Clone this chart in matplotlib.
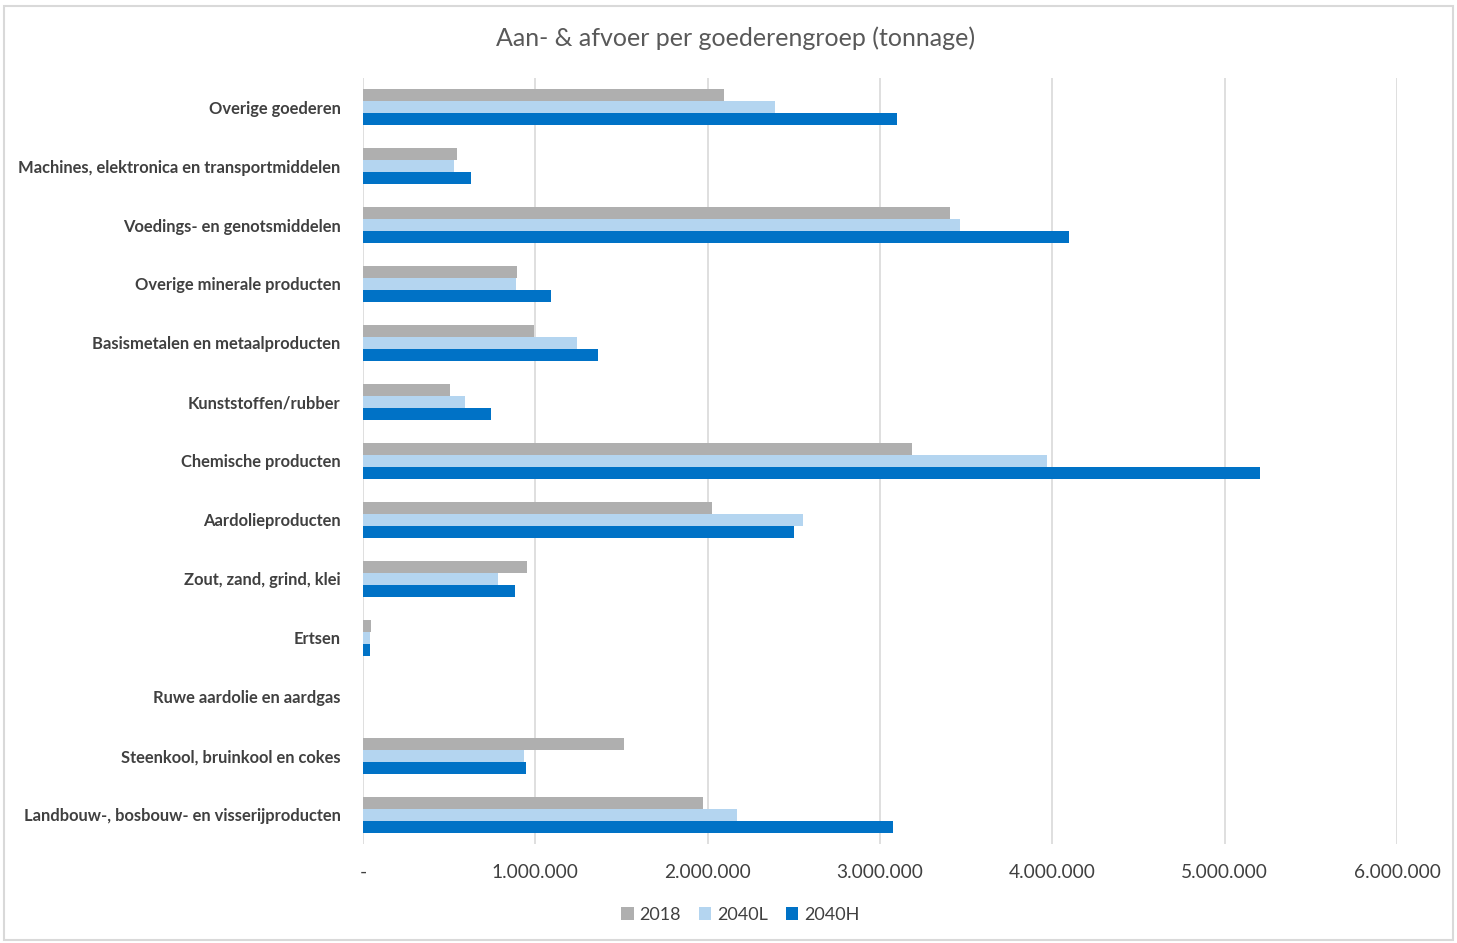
import numpy as np
import matplotlib.pyplot as plt
from matplotlib.patches import Rectangle
from matplotlib.ticker import FuncFormatter

plt.rcParams['font.family'] = ['Lato', 'DejaVu Sans']

# categories, bottom to top
categories = [
    "Landbouw-, bosbouw- en visserijproducten",
    "Steenkool, bruinkool en cokes",
    "Ruwe aardolie en aardgas",
    "Ertsen",
    "Zout, zand, grind, klei",
    "Aardolieproducten",
    "Chemische producten",
    "Kunststoffen/rubber",
    "Basismetalen en metaalproducten",
    "Overige minerale producten",
    "Voedings- en genotsmiddelen",
    "Machines, elektronica en transportmiddelen",
    "Overige goederen",
]
series_names = ["2018", "2040L", "2040H"]
v2018 = [1973000, 1513000, 0, 46000, 951000, 2023000, 3184000, 505000, 990000, 893000, 3405000, 545000, 2095000]
v2040L = [2173000, 933000, 0, 39000, 786000, 2551000, 3967000, 590000, 1240000, 890000, 3463000, 531000, 2390000]
v2040H = [3078000, 949000, 0, 42000, 883000, 2502000, 5203000, 742000, 1363000, 1090000, 4095000, 628000, 3100000]
colors = ["#AFAFAF", "#B4D5F0", "#0072C6"]

fig = plt.figure(figsize=(14.57, 9.43), dpi=100)
fig.patches.append(Rectangle((0.003, 0.003), 0.994, 0.991, transform=fig.transFigure,
                             fill=False, edgecolor="#D9D9D9", linewidth=1.5))
ax = fig.add_axes([0.2491, 0.1045, 0.7097, 0.8133])

y = np.arange(len(categories))
h = 0.2
for i, (vals, name) in enumerate(zip([v2018, v2040L, v2040H], series_names)):
    ax.barh(y + h - i * h, vals, height=h, color=colors[i], label=name, zorder=3)

ax.set_ylim(-0.5, len(categories) - 0.5)
ax.set_xlim(0, 6000000)
ax.set_xticks(np.arange(0, 6000001, 1000000))


def fmt(v, pos):
    if v == 0:
        return "-"
    return f"{int(v):,}".replace(",", ".")


ax.xaxis.set_major_formatter(FuncFormatter(fmt))
ax.set_yticks(y)
ax.set_yticklabels(categories, fontsize=11.9, color="#404040", fontweight="bold")
ax.tick_params(axis="both", length=0)
ax.tick_params(axis="x", labelsize=13.8, colors="#404040", pad=14)
ax.tick_params(axis="y", pad=16)
ax.grid(axis="x", color="#D9D9D9", linewidth=1.2, zorder=0)
for s in ax.spines.values():
    s.set_visible(False)

fig.text(0.505, 0.96, "Aan- & afvoer per goederengroep (tonnage)", ha="center", va="center",
         fontsize=18, color="#595959")
fig.legend(loc="center", bbox_to_anchor=(0.508, 0.03), ncol=3, frameon=False,
           fontsize=13, handlelength=0.7, handleheight=0.7, handletextpad=0.3,
           columnspacing=1.0, labelcolor="#404040")

fig.savefig("out.png", dpi=100)
